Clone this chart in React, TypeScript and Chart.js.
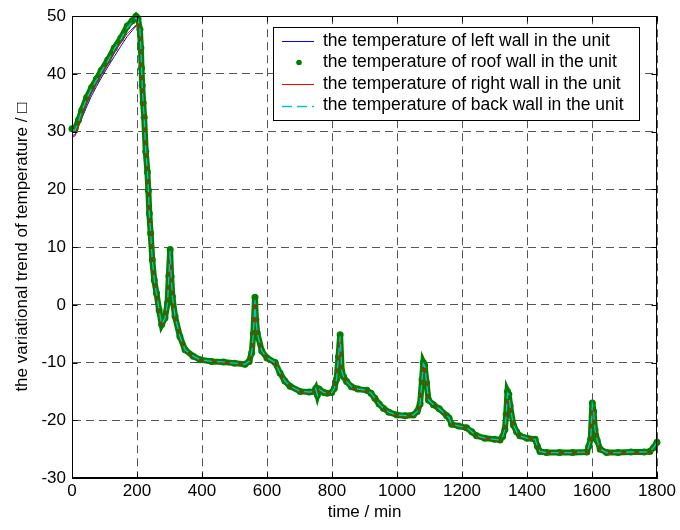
import React, { useEffect, useRef } from 'react';
import { Chart, registerables } from 'chart.js';

Chart.register(...registerables);

// time (min)
const times = [
  0, 10, 20, 30, 45, 60, 75, 90, 110, 130, 150, 170, 185, 197, 203, 209, 212, 214, 216, 219,
  222, 227, 232, 235, 238, 242, 247, 253, 260, 268, 276, 286, 294, 298, 302, 305, 309, 317, 332, 348,
  373, 394, 430, 466, 500, 532, 545, 553, 558, 563, 566, 570, 584, 600, 625, 640, 655, 671, 702, 730,
  745, 750, 755, 760, 775, 785, 799, 807, 814, 820, 825, 830, 835, 845, 860, 880, 907, 920, 932, 945,
  958, 975, 1000, 1025, 1050, 1062, 1071, 1077, 1081, 1085, 1091, 1097, 1112, 1130, 1153, 1160, 1168, 1190, 1214, 1230,
  1245, 1270, 1300, 1317, 1325, 1332, 1336, 1340, 1344, 1348, 1358, 1368, 1378, 1400, 1425, 1432, 1440, 1460, 1500, 1540,
  1584, 1590, 1596, 1601, 1605, 1609, 1616, 1625, 1645, 1680, 1720, 1760, 1778, 1790, 1800,
];

// roof wall temperature
const roofWall = [
  30.5, 30.6, 32.0, 33.7, 35.9, 37.6, 39.1, 40.6, 42.4, 44.5, 46.2, 48.3, 49.2, 50.0, 49.6, 47.7, 44.5, 41.0, 38.0, 35.0,
  32.5, 26.5, 23.0, 19.8, 15.8, 12.4, 7.8, 4.3, 2.0, -0.9, -3.4, -2.3, 0.3, 5.0, 9.6, 4.9, 1.4, -2.0, -5.5, -7.8,
  -8.9, -9.5, -9.8, -9.9, -10.1, -10.3, -9.8, -8.3, -5.0, 1.3, -2.6, -4.9, -8.0, -9.2, -10.0, -11.8, -13.2, -14.1, -15.0, -15.1,
  -15.0, -14.5, -15.6, -14.6, -15.2, -15.3, -15.2, -14.5, -12.9, -9.0, -5.2, -11.5, -12.4, -13.3, -14.2, -14.6, -14.8, -15.3, -16.2, -17.2,
  -17.9, -18.6, -19.1, -19.2, -19.1, -18.5, -17.2, -13.0, -10.0, -10.5, -13.5, -16.5, -17.3, -18.0, -19.2, -19.6, -20.7, -21.0, -21.3, -22.0,
  -22.7, -23.1, -23.3, -23.4, -22.8, -21.6, -19.0, -15.0, -15.5, -17.5, -20.8, -22.0, -22.7, -23.1, -23.3, -24.5, -25.4, -25.6, -25.6, -25.6,
  -25.5, -24.5, -23.3, -17.0, -18.5, -21.6, -23.5, -25.0, -25.6, -25.6, -25.5, -25.5, -25.4, -24.7, -23.8,
];

// left wall temperature
const leftWall = [
  29.3, 29.5, 31.0, 32.3, 34.3, 36.2, 37.8, 39.3, 41.2, 43.0, 44.8, 46.5, 47.5, 48.3, 48.5, 47.5, 44.3, 41.0, 38.2, 35.2,
  32.6, 26.8, 23.2, 20.0, 16.0, 12.5, 8.0, 4.5, 2.1, -0.8, -3.3, -2.4, 0.0, 4.0, 8.0, 4.5, 1.3, -2.1, -5.6, -7.9,
  -9.0, -9.6, -9.9, -10.0, -10.2, -10.4, -9.9, -8.5, -6.0, -1.0, -3.0, -5.1, -8.2, -9.3, -10.1, -11.9, -13.3, -14.2, -15.1, -15.2,
  -15.1, -14.7, -15.5, -14.7, -15.3, -15.4, -15.3, -14.7, -13.2, -10.0, -6.5, -11.8, -12.6, -13.4, -14.3, -14.7, -14.9, -15.4, -16.3, -17.3,
  -18.0, -18.7, -19.2, -19.3, -19.2, -18.6, -17.4, -14.0, -11.5, -11.3, -13.8, -16.6, -17.4, -18.1, -19.3, -19.7, -20.8, -21.1, -21.4, -22.1,
  -22.8, -23.2, -23.4, -23.5, -22.9, -21.8, -20.0, -17.0, -17.2, -18.3, -20.9, -22.1, -22.8, -23.2, -23.4, -24.6, -25.5, -25.7, -25.7, -25.7,
  -25.6, -24.7, -23.5, -19.0, -19.5, -22.0, -23.6, -25.1, -25.7, -25.7, -25.6, -25.6, -25.5, -24.8, -23.9,
];

// right wall temperature
const rightWall = [
  29.0, 29.3, 31.3, 33.0, 35.0, 36.8, 38.3, 39.8, 41.7, 43.7, 45.4, 47.0, 47.8, 48.5, 48.7, 47.6, 44.4, 40.8, 38.0, 35.0,
  32.4, 26.6, 23.0, 19.7, 15.7, 12.3, 7.7, 4.2, 1.9, -1.0, -3.5, -2.4, 0.1, 4.5, 9.0, 4.7, 1.3, -2.1, -5.6, -7.9,
  -9.0, -9.6, -9.8, -10.0, -10.2, -10.3, -9.9, -8.4, -5.5, 0.5, -2.8, -5.0, -8.1, -9.3, -10.1, -11.9, -13.3, -14.2, -15.1, -15.2,
  -15.1, -14.6, -15.5, -14.7, -15.3, -15.4, -15.3, -14.6, -13.0, -9.5, -6.0, -11.6, -12.5, -13.4, -14.3, -14.7, -14.9, -15.4, -16.3, -17.3,
  -18.0, -18.7, -19.2, -19.3, -19.2, -18.6, -17.3, -13.5, -10.5, -10.8, -13.6, -16.6, -17.4, -18.1, -19.3, -19.7, -20.8, -21.1, -21.4, -22.1,
  -22.8, -23.2, -23.4, -23.5, -22.9, -21.7, -19.5, -16.5, -16.6, -17.8, -20.9, -22.1, -22.8, -23.2, -23.4, -24.6, -25.5, -25.7, -25.7, -25.7,
  -25.6, -24.6, -23.4, -18.0, -19.0, -21.8, -23.6, -25.1, -25.7, -25.7, -25.6, -25.6, -25.5, -24.8, -23.9,
];

// back wall temperature
const backWall = [
  30.2, 30.3, 31.8, 33.5, 35.7, 37.4, 38.9, 40.4, 42.2, 44.3, 46.0, 48.0, 49.0, 49.7, 49.4, 47.7, 44.5, 41.0, 38.0, 35.0,
  32.5, 26.5, 23.0, 19.8, 15.8, 12.4, 7.8, 4.3, 2.0, -0.9, -3.4, -2.3, 0.3, 5.0, 9.3, 4.9, 1.4, -2.0, -5.5, -7.8,
  -8.9, -9.5, -9.8, -9.9, -10.1, -10.3, -9.8, -8.3, -5.0, 0.8, -2.6, -4.9, -8.0, -9.2, -10.0, -11.8, -13.2, -14.1, -15.0, -15.1,
  -15.0, -14.5, -15.6, -14.6, -15.2, -15.3, -15.2, -14.5, -12.9, -9.0, -5.5, -11.5, -12.4, -13.3, -14.2, -14.6, -14.8, -15.3, -16.2, -17.2,
  -17.9, -18.6, -19.1, -19.2, -19.1, -18.5, -17.2, -13.0, -10.2, -10.5, -13.5, -16.5, -17.3, -18.0, -19.2, -19.6, -20.7, -21.0, -21.3, -22.0,
  -22.7, -23.1, -23.3, -23.4, -22.8, -21.6, -19.0, -15.3, -15.5, -17.5, -20.8, -22.0, -22.7, -23.1, -23.3, -24.5, -25.4, -25.6, -25.6, -25.6,
  -25.5, -24.5, -23.3, -17.3, -18.5, -21.6, -23.5, -25.0, -25.6, -25.6, -25.5, -25.5, -25.4, -24.7, -23.8,
];

const seriesNames = [
  'the temperature of left wall in the unit',
  'the temperature of roof wall in the unit',
  'the temperature of right wall in the unit',
  'the temperature of back wall in the unit',
];

const xTitle = 'time / min';
const yTitle = 'the variational trend of temperature / \u25A1';

const FONT = "'Liberation Sans', Arial, Helvetica, sans-serif";
const FS = 17;

const toPoints = (vals: number[]) => vals.map((v, i) => ({ x: times[i], y: v }));

const framePlugin = {
  id: 'matlabFrame',
  afterDraw(chart: any) {
    const { ctx, chartArea } = chart;
    const { left, right, top, bottom } = chartArea;
    const xs = chart.scales.x;
    const ys = chart.scales.y;
    const L = Math.round(left) + 0.5;
    const R = Math.round(right) - 0.5;
    const T = Math.round(top) + 0.5;
    const B = Math.round(bottom) - 0.5;
    ctx.save();
    ctx.strokeStyle = '#000';
    ctx.lineWidth = 1;
    ctx.setLineDash([]);
    ctx.strokeRect(L, T, R - L, B - T);
    const tl = 5;
    ctx.beginPath();
    xs.ticks.forEach((t: any) => {
      const px = Math.round(xs.getPixelForValue(t.value)) + 0.5;
      ctx.moveTo(px, B);
      ctx.lineTo(px, B - tl);
      ctx.moveTo(px, T);
      ctx.lineTo(px, T + tl);
    });
    ys.ticks.forEach((t: any) => {
      const py = Math.round(ys.getPixelForValue(t.value)) + 0.5;
      ctx.moveTo(L, py);
      ctx.lineTo(L + tl, py);
      ctx.moveTo(R, py);
      ctx.lineTo(R - tl, py);
    });
    ctx.stroke();

    // legend box
    const bx = 273.5, by = 27.5, bw = 366, bh = 93;
    ctx.fillStyle = '#fff';
    ctx.fillRect(bx, by, bw, bh);
    ctx.strokeRect(bx, by, bw, bh);
    const rows = [41, 62.5, 84, 105.5];
    const colors = ['#0000ff', '#008000', '#ff0000', '#00c8c8'];
    rows.forEach((ry, i) => {
      ctx.save();
      if (i === 1) {
        ctx.fillStyle = colors[i];
        ctx.beginPath();
        ctx.arc(299, ry, 2.8, 0, Math.PI * 2);
        ctx.fill();
      } else {
        ctx.strokeStyle = colors[i];
        ctx.lineWidth = i === 3 ? 1.5 : 1;
        ctx.setLineDash(i === 3 ? [10, 5] : []);
        ctx.beginPath();
        ctx.moveTo(282, Math.round(ry) + 0.5);
        ctx.lineTo(314, Math.round(ry) + 0.5);
        ctx.stroke();
      }
      ctx.restore();
      ctx.fillStyle = '#000';
      ctx.font = `17.5px ${FONT}`;
      ctx.textBaseline = 'middle';
      ctx.textAlign = 'left';
      ctx.fillText(seriesNames[i], 323, ry);
    });
    ctx.restore();
  },
};

export default function App() {
  const ref = useRef<HTMLCanvasElement>(null);
  useEffect(() => {
    if (!ref.current) return;
    const chart = new Chart(ref.current, {
      type: 'line',
      data: {
        datasets: [
          {
            label: seriesNames[3],
            data: toPoints(backWall),
            borderColor: '#00c8c8',
            borderWidth: 1.3,
            borderDash: [8, 5],
            pointRadius: 0,
            order: 1,
            clip: false,
          } as any,
          {
            label: seriesNames[2],
            data: toPoints(rightWall),
            borderColor: '#ff0000',
            borderWidth: 1,
            pointRadius: 0,
            order: 2,
            clip: false,
          },
          {
            label: seriesNames[1],
            data: toPoints(roofWall),
            borderColor: '#008000',
            backgroundColor: '#008000',
            borderWidth: 6,
            pointRadius: 3.5,
            pointBorderWidth: 0,
            pointBackgroundColor: '#008000',
            order: 3,
            clip: false,
          },
          {
            label: seriesNames[0],
            data: toPoints(leftWall),
            borderColor: '#0000ff',
            borderWidth: 1,
            pointRadius: 0,
            order: 4,
            clip: false,
          },
        ],
      },
      options: {
        animation: false,
        responsive: false,
        devicePixelRatio: 1,
        layout: { padding: { top: 15, right: 23, left: 0, bottom: 0 } },
        plugins: {
          legend: { display: false },
          tooltip: { enabled: false },
        },
        elements: { line: { tension: 0 } },
        scales: {
          x: {
            type: 'linear',
            min: 0,
            max: 1800,
            ticks: {
              stepSize: 200,
              color: '#000',
              font: { family: FONT, size: FS },
              padding: 3,
              maxRotation: 0,
              callback: (v: any) => String(v),
            },
            grid: { color: '#555', lineWidth: 1, drawTicks: false },
            border: { display: true, color: '#000', dash: [8, 5] },
            title: { display: true, text: xTitle, color: '#000', font: { family: FONT, size: FS }, padding: { top: 0, bottom: 7 } },
            afterFit: (s: any) => { s.height = 52; },
          },
          y: {
            type: 'linear',
            min: -30,
            max: 50,
            ticks: {
              stepSize: 10,
              color: '#000',
              font: { family: FONT, size: FS },
              padding: 6,
              callback: (v: any) => String(v),
            },
            grid: { color: '#555', lineWidth: 1, drawTicks: false },
            border: { display: true, color: '#000', dash: [8, 5] },
            title: { display: true, text: yTitle, color: '#000', font: { family: FONT, size: FS }, padding: { top: 12, bottom: 0 } },
            afterFit: (s: any) => { s.width = 72; },
          },
        },
      },
      plugins: [framePlugin],
    });
    return () => chart.destroy();
  }, []);
  return (
    <div style={{ position: 'fixed', left: 0, top: 0, width: 680, height: 530, background: '#fff' }}>
      <canvas ref={ref} width={680} height={530} />
    </div>
  );
}
